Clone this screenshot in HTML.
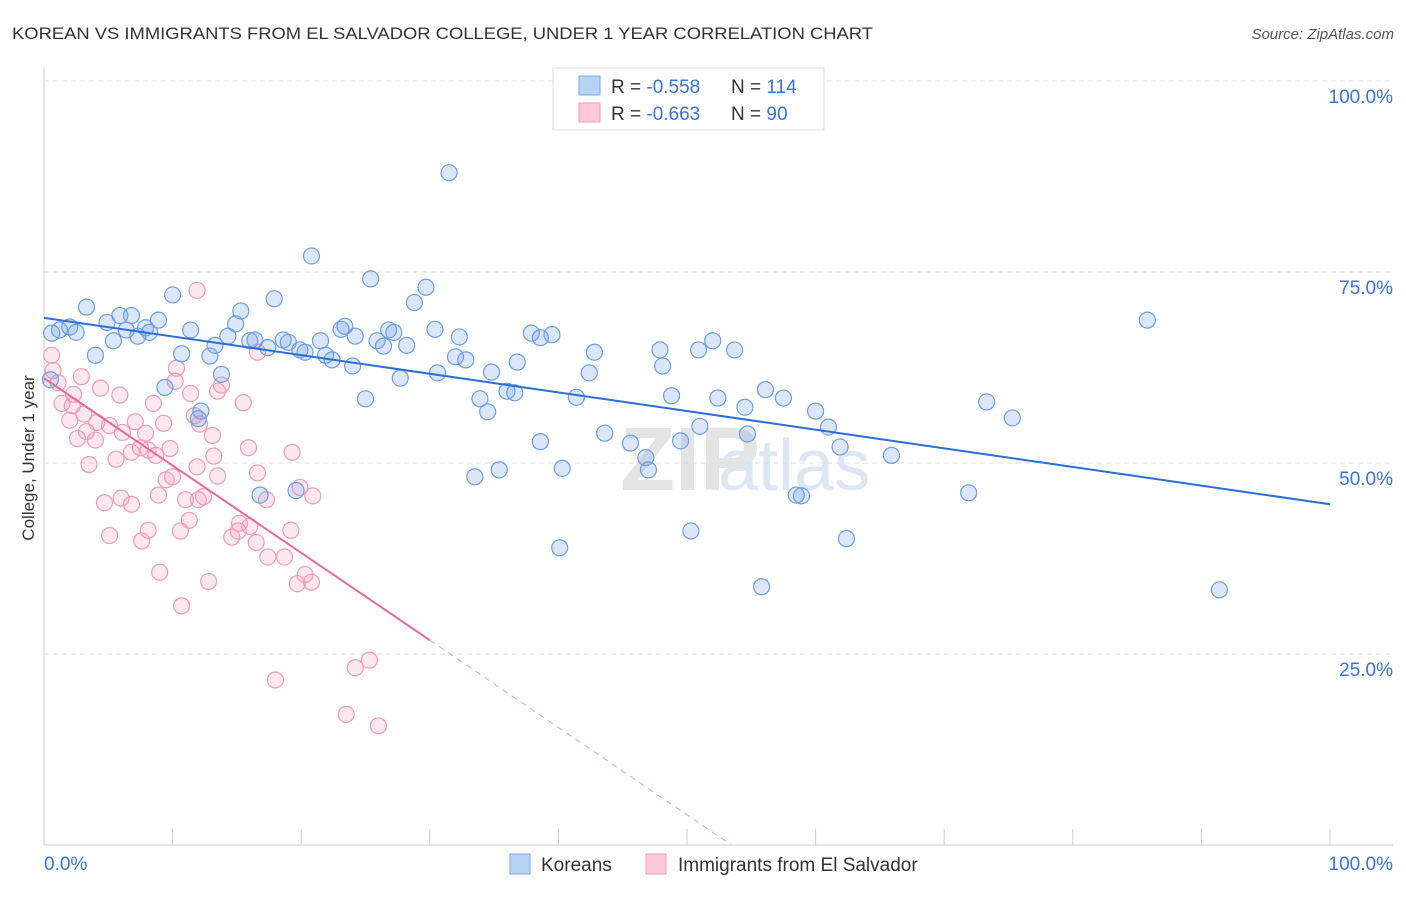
<!DOCTYPE html>
<html><head><meta charset="utf-8">
<style>
body{margin:0;background:#fff;font-family:"Liberation Sans",sans-serif;}
svg text{font-family:"Liberation Sans",sans-serif;}
</style></head>
<body>
<svg id="chart" width="1406" height="892">
<text x="12" y="39" font-size="17" fill="#333" textLength="861" lengthAdjust="spacingAndGlyphs">KOREAN VS IMMIGRANTS FROM EL SALVADOR COLLEGE, UNDER 1 YEAR CORRELATION CHART</text>
<text x="1394" y="39" font-size="15" fill="#555" font-style="italic" text-anchor="end">Source: ZipAtlas.com</text>
<text x="0" y="0" transform="translate(34,458) rotate(-90)" font-size="17" fill="#333" text-anchor="middle">College, Under 1 year</text>
<text x="620" y="490" font-size="90" fill="#e4e4e4" font-family="Liberation Serif" font-weight="bold">ZIP</text>
<text x="718" y="490" font-size="72" fill="#dde6f3">atlas</text>
<g id="grid"></g><g id="pts"></g><g id="lines"></g>
<g>
<rect x="553" y="68" width="271" height="62" fill="#fff" stroke="#ddd"/>
<rect x="579" y="76" width="21" height="19" fill="#b8d2f4" stroke="#7aa6e6"/>
<rect x="579" y="103" width="21" height="19" fill="#fbc9d8" stroke="#f09ab8"/>
<text x="611" y="93" font-size="19" fill="#333">R = <tspan fill="#3a74d6">-0.558</tspan><tspan x="731">N = </tspan><tspan fill="#3a74d6">114</tspan></text>
<text x="611" y="120" font-size="19" fill="#333">R = <tspan fill="#3a74d6">-0.663</tspan><tspan x="731">N = </tspan><tspan fill="#3a74d6"> 90</tspan></text>
</g>
<g>
<rect x="510" y="854" width="20" height="20" fill="#b8d2f4" stroke="#7aa6e6"/>
<text x="541" y="871" font-size="19" fill="#333">Koreans</text>
<rect x="646" y="854" width="20" height="20" fill="#fbc9d8" stroke="#f09ab8"/>
<text x="678" y="871" font-size="19" fill="#333">Immigrants from El Salvador</text>
</g>
</svg>
<script>
const yTicks=[25,50,75,100];
const xTickLabels=["0.0%","100.0%"];
const blueX=[31.5,20.8,25.4,29.7,10.0,17.9,28.8,3.3,15.3,5.9,6.8,8.9,4.9,14.9,85.8,2.0,1.2,2.5,6.4,7.9,8.2,11.4,23.1,23.4,26.8,27.2,30.4,14.3,5.4,7.3,13.3,16.0,16.4,18.6,19.0,21.5,24.2,25.9,26.4,28.2,32.3,37.9,38.6,39.5,52.0,4.0,10.7,12.9,17.4,19.9,20.3,21.9,22.4,24.0,32.0,32.8,36.8,42.8,47.9,50.9,53.7,48.1,34.8,30.6,42.4,27.7,13.8,9.4,0.5,56.1,36.0,36.6,25.0,33.9,41.4,48.8,52.4,57.5,73.3,54.5,34.5,12.2,12.0,60.0,75.3,51.0,61.0,43.6,54.7,38.6,45.6,49.5,61.9,65.9,46.8,40.3,47.0,35.4,33.5,16.8,19.6,58.5,58.9,71.9,50.3,62.4,40.1,55.8,91.4,0.6];
const blueY=[88.0,77.1,74.1,73.0,72.0,71.5,71.0,70.4,69.9,69.3,69.3,68.7,68.4,68.2,68.7,67.8,67.4,67.1,67.4,67.7,67.1,67.4,67.5,67.9,67.4,67.1,67.5,66.6,66.0,66.6,65.4,66.0,66.1,66.1,65.8,66.0,66.6,66.0,65.3,65.4,66.5,67.0,66.4,66.8,66.0,64.1,64.3,64.0,65.1,64.8,64.5,64.1,63.5,62.7,63.9,63.5,63.2,64.5,64.8,64.8,64.8,62.7,61.9,61.8,61.8,61.1,61.6,59.9,60.9,59.6,59.4,59.2,58.4,58.4,58.6,58.8,58.5,58.5,58.0,57.3,56.7,56.8,55.8,56.8,55.9,54.8,54.7,53.9,53.8,52.8,52.6,52.9,52.1,51.0,50.7,49.3,49.1,49.1,48.2,45.8,46.4,45.8,45.7,46.1,41.1,40.1,38.9,33.8,33.4,67.0];
const pinkX=[11.9,16.6,0.6,0.7,10.3,2.9,1.1,10.2,4.4,13.8,2.3,5.9,11.4,13.5,1.4,2.2,8.5,15.5,3.1,11.7,2.0,4.1,7.1,9.3,5.1,12.1,3.3,6.1,7.9,2.6,4.0,13.1,9.8,7.5,15.9,19.3,6.8,8.1,8.7,13.2,5.6,3.5,11.9,16.6,13.5,10.0,9.5,19.9,8.9,11.0,12.0,12.4,20.9,6.0,4.7,6.8,17.3,11.3,15.2,16.0,8.1,15.1,10.6,19.2,5.1,14.6,7.6,16.5,17.4,18.7,9.0,20.3,12.8,19.7,20.8,10.7,25.3,24.2,18.0,23.5,26.0];
const pinkY=[72.6,64.5,64.1,62.1,62.4,61.3,60.5,60.7,59.8,60.2,59.0,58.9,59.1,59.4,57.8,57.5,57.8,57.9,56.4,56.2,55.6,55.3,55.4,55.2,54.9,55.1,54.1,54.0,53.9,53.2,53.0,53.6,51.9,52.0,52.0,51.4,51.4,51.7,51.0,50.9,50.5,49.8,49.5,48.7,48.3,48.2,47.8,46.8,45.8,45.2,45.2,45.6,45.7,45.4,44.8,44.6,45.2,42.5,42.1,41.7,41.2,41.1,41.1,41.2,40.5,40.3,39.8,39.6,37.7,37.7,35.7,35.4,34.5,34.2,34.4,31.3,24.2,23.2,21.6,17.1,15.6];
const blueLine=[69.0,44.6];
const pinkLine=[61.1,-1.143];
const X0=44,X1=1330,Y0=845,Y100=81;
const sx=v=>X0+(X1-X0)*v/100, sy=v=>Y0-(Y0-Y100)*v/100;
const NS="http://www.w3.org/2000/svg";
function mk(tag,attrs,parent){const e=document.createElementNS(NS,tag);for(const k in attrs)e.setAttribute(k,attrs[k]);parent.appendChild(e);return e;}
const grid=document.getElementById('grid');
mk('line',{x1:44,y1:68,x2:44,y2:845,stroke:'#ccc'},grid);
mk('line',{x1:44,y1:845,x2:1393,y2:845,stroke:'#ccc'},grid);
yTicks.forEach(t=>{
  const g=mk('line',{x1:44,y1:sy(t),x2:1393,y2:sy(t),stroke:'#ddd','stroke-dasharray':'5,4'},grid);
  
  
  const tx=mk('text',{x:1393,y:sy(t)+22,'font-size':19,fill:'#3a74d6','text-anchor':'end'},grid);
  tx.textContent=t.toFixed(1)+'%';
  
  
});
for(let i=1;i<=10;i++){mk('line',{x1:sx(i*10),y1:829,x2:sx(i*10),y2:845,stroke:'#ccc'},grid);}
const l0=mk('text',{x:44,y:870,'font-size':19,fill:'#3a74d6'},grid);l0.textContent=xTickLabels[0];


const l1=mk('text',{x:1393,y:870,'font-size':19,fill:'#3a74d6','text-anchor':'end'},grid);l1.textContent=xTickLabels[1];


const pts=document.getElementById('pts');
pinkX.forEach((x,i)=>{const c=mk('circle',{cx:sx(x),cy:sy(pinkY[i]),r:8,fill:'rgba(245,150,180,0.22)',stroke:'#f29ab9','stroke-width':1.2},pts);

});
blueX.forEach((x,i)=>{const c=mk('circle',{cx:sx(x),cy:sy(blueY[i]),r:8,fill:'rgba(110,160,230,0.25)',stroke:'#6c9ee0','stroke-width':1.2},pts);

});
const lines=document.getElementById('lines');
const bl=mk('line',{x1:sx(0),y1:sy(blueLine[0]),x2:sx(100),y2:sy(blueLine[1]),stroke:'#2a6fd6','stroke-width':2},lines);


const pe=-pinkLine[0]/pinkLine[1];
const pl=mk('line',{x1:sx(0),y1:sy(pinkLine[0]),x2:sx(30),y2:sy(pinkLine[0]+pinkLine[1]*30),stroke:'#e8689a','stroke-width':2},lines);


const pd=mk('line',{x1:sx(30),y1:sy(pinkLine[0]+pinkLine[1]*30),x2:sx(pe),y2:sy(0),stroke:'#f0a0bd','stroke-width':1,'stroke-dasharray':'6,5'},lines);


</script>
</body></html>
